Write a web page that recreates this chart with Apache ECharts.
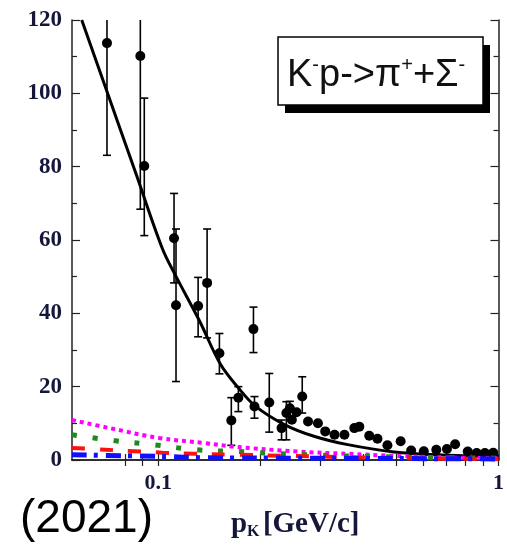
<!DOCTYPE html>
<html>
<head>
<meta charset="utf-8">
<script src="https://cdn.jsdelivr.net/npm/echarts@6/dist/echarts.min.js"></script>
<style>
  html, body { margin: 0; padding: 0; background: #fff; }
  #chart { width: 507px; height: 545px; }
</style>
</head>
<body>
<div id="chart"></div>
<script>
// --- measured points: K- p -> pi+ Sigma- cross section vs p_K ---
const pK      = [0.0707, 0.0886, 0.0910, 0.1113, 0.1128, 0.1310, 0.1392, 0.1513, 0.164, 0.172,
                 0.1905, 0.1918, 0.212, 0.2304, 0.238, 0.2437, 0.247, 0.255, 0.265, 0.2756,
                 0.2947, 0.3096, 0.3297, 0.3526, 0.377, 0.3899, 0.417, 0.4409, 0.4716, 0.5157,
                 0.5538, 0.6033, 0.6565, 0.7054, 0.7457, 0.812, 0.8627, 0.912, 0.965];
const sigma   = [113.7, 110.2, 80.2, 60.5, 42.2, 42.0, 48.3, 29.1, 10.8, 17.0,
                 35.7, 14.6, 15.7, 8.7, 12.8, 14.1, 11.0, 13.0, 17.3, 10.5,
                 10.0, 7.8, 6.9, 6.9, 8.7, 9.1, 6.6, 5.8, 4.0, 5.1,
                 2.6, 2.4, 2.8, 3.0, 4.3, 2.3, 1.9, 1.9, 2.0];
const errLow  = [83.1, 68.4, 61.2, 48.3, 21.4, 33.6, 33.3, 23.5, 4.0, 13.2,
                 29.3, 11.4, 7.6, 5.5, 5.5, 12.0, null, null, 12.8, null,
                 null, null, null, null, null, null, null, null, null, null,
                 null, null, null, null, null, null, null, null, null];
const errHigh = [144, 152, 98.7, 72.7, 63.0, 49.8, 63.0, 34.5, 17.0, 20.0,
                 41.7, 17.3, 23.6, 10.9, 15.9, 16.0, null, null, 22.7, null,
                 null, null, null, null, null, null, null, null, null, null,
                 null, null, null, null, null, null, null, null, null];

// --- total fit (solid black) ---
const fitP = [0.0596, 0.0704, 0.0863, 0.1029, 0.1126, 0.1326, 0.1524, 0.1726, 0.1929, 0.2357, 0.2884, 0.3605, 0.4933, 0.6596, 1.0];
const fitY = [120, 101, 77.7, 57.6, 50.2, 37.7, 26.1, 19.5, 14.7, 9.6, 6.4, 4.2, 2.2, 1.4, 0.95];

// --- partial contributions ---
const magentaP = [0.0558, 0.072, 0.1007, 0.1377, 0.1643, 0.2577, 0.3605, 0.5, 0.7, 1.0];
const magentaY = [10.9, 8.7, 6.0, 4.6, 3.7, 2.3, 1.7, 1.1, 0.7, 0.5];
const greenP = [0.0558, 0.074, 0.098, 0.129, 0.172, 0.26, 0.4, 0.6, 1.0];
const greenY = [6.9, 5.3, 4.1, 2.8, 2.3, 1.5, 1.0, 0.7, 0.5];
const redP = [0.0558, 0.07, 0.085, 0.103, 0.127, 0.16, 0.25, 0.4, 0.6, 1.0];
const redY = [3.3, 2.8, 2.4, 2.0, 1.7, 1.5, 1.1, 0.7, 0.4, 0.3];
const blueP = [0.0558, 0.1, 0.14, 0.25, 0.5, 1.0];
const blueY = [1.4, 1.0, 0.6, 0.5, 0.4, 0.3];

// axis ticks
const xLabelValues = [0.1, 1];
const xTickValues = [0.08, 0.09, 0.1, 0.2, 0.3, 0.4, 0.5, 0.6, 0.7, 0.8, 0.9, 1];

const zip = (a, b) => a.map((v, i) => [v, b[i]]);

const labelColor = '#14163a';
const axisColor = '#222';

const chart = echarts.init(document.getElementById('chart'));

const errData = pK.map((p, i) => [p, errLow[i], errHigh[i]]).filter(d => d[1] != null);

const lineSeries = (p, y, color, width, dash) => ({
  type: 'line',
  data: zip(p, y),
  smooth: 0.4,
  symbol: 'none',
  silent: true,
  lineStyle: { color: color, width: width, type: dash, cap: 'butt' },
  z: 5
});

chart.setOption({
  animation: false,
  backgroundColor: '#fff',
  grid: { left: 72, right: 5, top: 20, bottom: 83 },
  xAxis: [{
    type: 'log',
    min: 0.0558,
    max: 1,
    logBase: 10,
    axisLine: { lineStyle: { color: axisColor, width: 1.5 } },
    axisTick: { inside: true, length: 6, customValues: xTickValues, lineStyle: { color: axisColor, width: 1.2 } },
    minorTick: { show: false },
    splitLine: { show: false },
    axisLabel: {
      customValues: xLabelValues,
      margin: 12,
      fontFamily: 'Liberation Serif',
      fontWeight: 'bold',
      fontSize: 22,
      color: labelColor,
      formatter: v => String(v)
    },
    name: '{p|p}{k|K} {u|[GeV/c]}',
    nameLocation: 'middle',
    nameGap: 50,
    nameTextStyle: {
      padding: [0, 0, 0, 20],
      rich: {
        p: { fontFamily: 'Liberation Serif', fontWeight: 'bold', fontSize: 29, color: labelColor },
        k: { fontFamily: 'Liberation Serif', fontWeight: 'bold', fontSize: 16, color: labelColor, verticalAlign: 'bottom', padding: [14, 0, 0, 0] },
        u: { fontFamily: 'Liberation Serif', fontWeight: 'bold', fontSize: 29, color: labelColor }
      }
    }
  }, {
    type: 'log',
    position: 'top',
    min: 0.0558,
    max: 1,
    axisLine: { lineStyle: { color: axisColor, width: 1.5 } },
    axisTick: { inside: true, length: 6, customValues: xTickValues, lineStyle: { color: axisColor, width: 1.2 } },
    axisLabel: { show: false },
    splitLine: { show: false }
  }],
  yAxis: [{
    type: 'value',
    min: 0,
    max: 120,
    interval: 20,
    axisLine: { show: true, lineStyle: { color: axisColor, width: 1.5 } },
    axisTick: { inside: true, length: 8, lineStyle: { color: axisColor, width: 1.2 } },
    minorTick: { show: true, splitNumber: 2, length: 5, lineStyle: { color: axisColor, width: 1.2 } },
    splitLine: { show: false },
    axisLabel: {
      margin: 10,
      fontFamily: 'Liberation Serif',
      fontWeight: 'bold',
      fontSize: 23,
      color: labelColor
    }
  }, {
    type: 'value',
    position: 'right',
    min: 0,
    max: 120,
    interval: 20,
    axisLine: { show: true, lineStyle: { color: axisColor, width: 1.5 } },
    axisTick: { inside: true, length: 8, lineStyle: { color: axisColor, width: 1.2 } },
    minorTick: { show: true, splitNumber: 2, length: 5, lineStyle: { color: axisColor, width: 1.2 } },
    splitLine: { show: false },
    axisLabel: { show: false }
  }],
  series: [
    {
      type: 'line',
      data: zip(fitP, fitY),
      smooth: 0.35,
      symbol: 'none',
      silent: true,
      lineStyle: { color: '#000', width: 3 },
      z: 3
    },
    {
      type: 'custom',
      data: errData,
      encode: { x: 0, y: [1, 2] },
      clip: true,
      silent: true,
      z: 4,
      renderItem: function (params, api) {
        const x = api.value(0);
        const lo = api.coord([x, api.value(1)]);
        const hi = api.coord([x, api.value(2)]);
        const w = 4;
        const style = { stroke: '#000', lineWidth: 1.6 };
        return {
          type: 'group',
          children: [
            { type: 'line', shape: { x1: lo[0], y1: lo[1], x2: hi[0], y2: hi[1] }, style: style },
            { type: 'line', shape: { x1: lo[0] - w, y1: lo[1], x2: lo[0] + w, y2: lo[1] }, style: style },
            { type: 'line', shape: { x1: hi[0] - w, y1: hi[1], x2: hi[0] + w, y2: hi[1] }, style: style }
          ]
        };
      }
    },
    {
      type: 'scatter',
      data: zip(pK, sigma),
      symbol: 'circle',
      symbolSize: 10,
      silent: true,
      itemStyle: { color: '#000', opacity: 1 },
      z: 4
    },
    lineSeries(magentaP, magentaY, '#ff00ff', 4, [4, 4]),
    lineSeries(greenP, greenY, '#1e8a1e', 5, [5, 16]),
    lineSeries(redP, redY, '#ff1010', 4, [13, 15]),
    lineSeries(blueP, blueY, '#1010ff', 5, [15, 7, 4, 8])
  ],
  graphic: [
    { type: 'rect', shape: { x: 285, y: 45, width: 205, height: 68 }, style: { fill: '#000' }, z: 10 },
    { type: 'rect', shape: { x: 278, y: 37, width: 205, height: 68 }, style: { fill: '#fff', stroke: '#000', lineWidth: 1.5 }, z: 11 },
    {
      type: 'text', x: 287, y: 76, z: 12,
      style: {
        text: '{b|K}{s|-}{b|p->π}{s|+}{b|+Σ}{s|-}',
        verticalAlign: 'middle',
        rich: {
          b: { fontFamily: 'Liberation Sans', fontSize: 38, fill: '#111', lineHeight: 42 },
          s: { fontFamily: 'Liberation Sans', fontSize: 20, fill: '#111', verticalAlign: 'top', lineHeight: 42, padding: [0, 0, 18, 0] }
        }
      }
    },
    {
      type: 'text', x: 20, y: 542, z: 12,
      style: { text: '(2021)', fontFamily: 'Liberation Sans', fontSize: 46, fill: '#000', verticalAlign: 'bottom' }
    }
  ]
});
</script>
</body>
</html>
